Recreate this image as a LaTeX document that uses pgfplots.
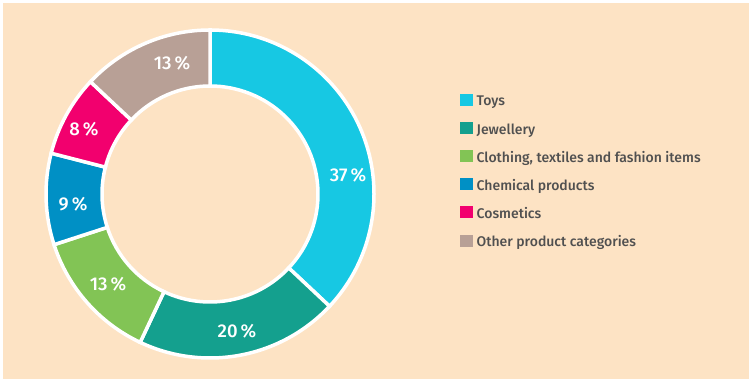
\documentclass[border=0pt]{standalone}
\usepackage{pgfplots}
\pgfplotsset{compat=1.18}
\usepackage{fontspec}
\setmainfont{Fira Sans}
\newfontfamily\medfont{Fira Sans Medium}
\definecolor{bg}{HTML}{FDE3C4}
\definecolor{toys}{HTML}{17C8E3}
\definecolor{jewel}{HTML}{14A08E}
\definecolor{cloth}{HTML}{82C455}
\definecolor{chem}{HTML}{0090C5}
\definecolor{cosm}{HTML}{F2006E}
\definecolor{other}{HTML}{B8A096}
\definecolor{txt}{HTML}{505050}
\tikzset{lbl/.style={text=white, font=\fontsize{18.5}{18.5}\medfont, inner sep=0pt}}
% shares in percent
\def\vToys{37}\def\vJewel{20}\def\vCloth{13}\def\vChem{9}\def\vCosm{8}\def\vOther{13}
\def\cx{210}\def\cy{185}\def\ro{164}\def\ri{108}
\pgfmathsetmacro\aA{0}
\pgfmathsetmacro\aB{\aA+\vToys*3.6}
\pgfmathsetmacro\aC{\aB+\vJewel*3.6}
\pgfmathsetmacro\aD{\aC+\vCloth*3.6}
\pgfmathsetmacro\aE{\aD+\vChem*3.6}
\pgfmathsetmacro\aF{\aE+\vCosm*3.6}
\pgfmathsetmacro\aG{\aF+\vOther*3.6}
\newcommand\donutseg[3]{%
 \filldraw[fill=#3, draw=white, line width=3.5pt, line join=miter]
  ({\cx+\ro*cos(90-#1)},{\cy+\ro*sin(90-#1)})
  arc[start angle={90-#1}, end angle={90-#2}, radius=\ro pt]
  -- ({\cx+\ri*cos(90-#2)},{\cy+\ri*sin(90-#2)})
  arc[start angle={90-#2}, end angle={90-#1}, radius=\ri pt] -- cycle;}
\begin{document}
\begin{tikzpicture}
\begin{axis}[x=1pt, y=1pt, xmin=0, xmax=749, ymin=0, ymax=379,
  hide axis, clip=false,
  legend image code/.code={\fill[#1] (0pt,-2.5pt) rectangle (12pt,8.5pt);},
  legend style={at={(0.6142,0.7533)}, anchor=north west, draw=none, fill=none,
    font=\fontsize{14}{16}\medfont, text=txt, inner sep=0pt, row sep=13pt,
    nodes={inner sep=0pt, text height=10pt, text depth=3pt},
    /tikz/every odd column/.append style={column sep=4pt}},
  legend cell align=left]
\fill[white] (0,0) rectangle (749,379);
\fill[bg] (3,0) rectangle (749,376);
\donutseg{\aA}{\aB}{toys}
\donutseg{\aB}{\aC}{jewel}
\donutseg{\aC}{\aD}{cloth}
\donutseg{\aD}{\aE}{chem}
\donutseg{\aE}{\aF}{cosm}
\donutseg{\aF}{\aG}{other}
\node[lbl] at (348,204) {\vToys\,\%};
\node[lbl] at (237,48) {\vJewel\,\%};
\node[lbl] at (108,95) {\vCloth\,\%};
\node[lbl] at (73,175) {\vChem\,\%};
\node[lbl] at (84,250) {\vCosm\,\%};
\node[lbl] at (172,316) {\vOther\,\%};
\addlegendimage{toys}\addlegendentry{Toys}
\addlegendimage{jewel}\addlegendentry{Jewellery}
\addlegendimage{cloth}\addlegendentry{Clothing, textiles and fashion items}
\addlegendimage{chem}\addlegendentry{Chemical products}
\addlegendimage{cosm}\addlegendentry{Cosmetics}
\addlegendimage{other}\addlegendentry{Other product categories}
\end{axis}
\end{tikzpicture}
\end{document}
